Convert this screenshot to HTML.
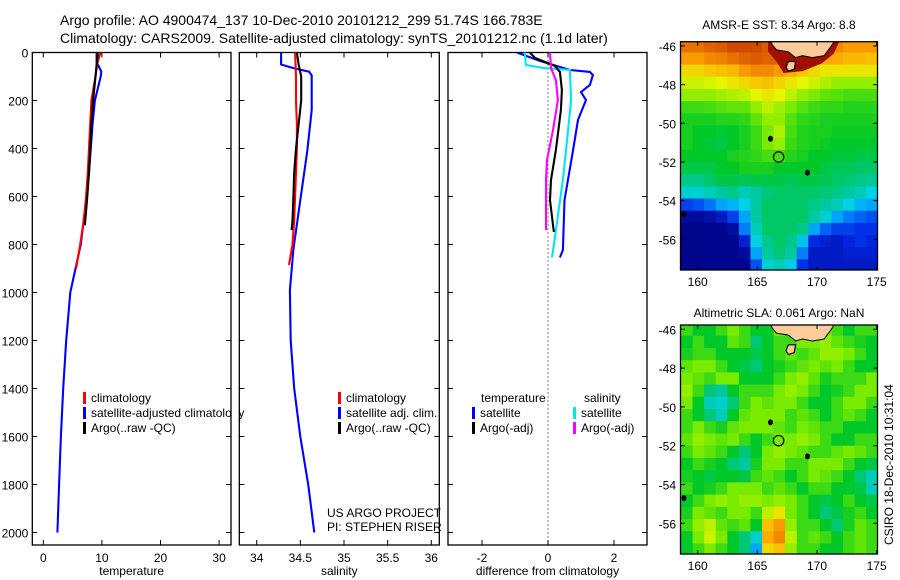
<!DOCTYPE html>
<html><head><meta charset="utf-8">
<style>
html,body{margin:0;padding:0;background:#fff;}
svg{display:block;font-family:"Liberation Sans",sans-serif;}
text{fill:#000;}
</style></head>
<body>
<svg id="fig" width="900" height="580" viewBox="0 0 900 580" xmlns="http://www.w3.org/2000/svg">
<rect width="900" height="580" fill="#fff"/>
<text x="60" y="25" font-size="14">Argo profile: AO 4900474_137 10-Dec-2010 20101212_299 51.74S 166.783E</text>
<text x="60" y="43" font-size="14">Climatology: CARS2009. Satellite-adjusted climatology: synTS_20101212.nc (1.1d later)</text>
<text x="779" y="29" font-size="12" text-anchor="middle">AMSR-E SST: 8.34 Argo: 8.8</text>
<text x="779" y="317" font-size="12" text-anchor="middle">Altimetric SLA: 0.061 Argo: NaN</text>
<text transform="translate(893,545) rotate(-90)" font-size="12">CSIRO 18-Dec-2010 10:31:04</text>
<g id="layer"></g>
</svg>
<script>
// ---------- profile data ----------
const tDepthClim=[0,20,50,100,200,300,400,500,600,700,800,900];
const tClim=[9.8,9.5,9.2,8.9,8.2,8.0,7.8,7.6,7.3,6.9,6.3,5.6];
const tDepthSat=[0,40,60,80,100,150,200,300,400,500,600,700,800,900,1000,1200,1400,1600,1800,2000];
const tSat=[9.1,9.1,9.5,9.9,9.8,9.3,8.8,8.4,8.1,7.8,7.4,6.9,6.4,5.5,4.6,3.9,3.4,3.0,2.7,2.4];
const tDepthArgo=[0,50,100,200,300,400,500,600,720];
const tArgo=[9.3,9.1,8.9,8.5,8.2,8.0,7.8,7.5,7.1];
const sDepthClim=[0,100,200,300,400,500,600,700,800,885];
const sClim=[34.44,34.45,34.45,34.46,34.46,34.45,34.44,34.43,34.41,34.37];
const sDepthSat=[0,50,65,80,95,240,410,615,820,990,1200,1400,1600,1800,2000];
const sSat=[34.28,34.28,34.42,34.6,34.63,34.63,34.58,34.5,34.42,34.38,34.39,34.43,34.5,34.59,34.66];
const sDepthArgo=[0,50,100,200,300,400,500,600,700,740];
const sArgo=[34.46,34.48,34.51,34.51,34.48,34.45,34.43,34.42,34.41,34.40];
const dDepthTS=[0,35,73,81,94,135,165,198,281,406,615,823,854];
const dTempSat=[-0.94,-0.25,0.67,1.27,1.36,1.27,1.0,1.15,0.91,0.76,0.5,0.45,0.36];
const dDepthSS=[0,52,65,73,94,198,323,531,740,854];
const dSalSat=[-0.7,-0.67,-0.1,0.67,0.67,0.7,0.61,0.45,0.24,0.12];
const dDepthTA=[0,23,56,81,156,240,406,531,615,719,748];
const dTempArgo=[-0.55,-0.39,0.21,0.36,0.42,0.39,0.24,0.09,0.06,0.15,0.18];
const dDepthSA=[0,65,115,198,323,448,531,740];
const dSalArgo=[0.06,0.09,0.24,0.3,0.15,-0.03,-0.06,-0.06];
const tempTicks=[0,10,20,30];
const salTicks=["34","34.5","35","35.5","36"];
const diffTicks=[-2,0,2];
const depthTicks=[0,200,400,600,800,1000,1200,1400,1600,1800,2000];
// ---------- map data ----------
const sstGrid=[
[.85,.85,.87,.88,.9,.9,.9,.88,.88,.88,.85,.85,.82,.82,.8,.8,.8],
[.8,.8,.82,.83,.85,.87,.88,.87,.87,.85,.8,.78,.78,.78,.76,.76,.75],
[.72,.72,.74,.75,.76,.8,.82,.82,.8,.78,.74,.72,.7,.7,.7,.7,.7],
[.66,.66,.67,.68,.7,.72,.74,.75,.72,.7,.68,.66,.64,.62,.62,.62,.62],
[.62,.62,.62,.63,.64,.65,.68,.7,.68,.65,.62,.6,.58,.57,.56,.56,.56],
[.55,.55,.56,.57,.58,.58,.62,.65,.63,.6,.57,.55,.54,.54,.53,.53,.53],
[.52,.52,.52,.53,.53,.54,.58,.62,.62,.57,.54,.53,.52,.52,.52,.52,.52],
[.52,.5,.5,.49,.5,.52,.55,.6,.64,.56,.53,.52,.52,.51,.51,.51,.51],
[.52,.5,.49,.48,.5,.52,.55,.6,.62,.55,.53,.52,.51,.5,.5,.5,.5],
[.5,.5,.5,.5,.52,.53,.54,.56,.56,.53,.52,.5,.5,.49,.49,.48,.48],
[.48,.48,.48,.5,.5,.52,.52,.52,.5,.5,.5,.5,.48,.47,.47,.46,.46],
[.44,.44,.46,.48,.48,.47,.48,.48,.48,.47,.48,.48,.47,.46,.45,.44,.43],
[.38,.38,.4,.42,.44,.4,.42,.45,.46,.46,.46,.46,.45,.44,.42,.4,.36],
[.18,.2,.24,.3,.32,.36,.42,.46,.46,.46,.46,.44,.42,.4,.36,.32,.3],
[.04,.04,.06,.1,.18,.3,.42,.46,.46,.46,.46,.42,.38,.3,.25,.22,.2],
[.02,.02,.02,.02,.05,.25,.4,.46,.46,.46,.44,.3,.22,.18,.18,.16,.16],
[.02,.02,.02,.02,.02,.12,.36,.44,.46,.44,.34,.15,.12,.1,.14,.16,.14],
[.02,.02,.02,.02,.02,.04,.3,.42,.45,.42,.25,.1,.1,.1,.12,.12,.12],
[.02,.02,.02,.02,.02,.02,.2,.38,.4,.35,.16,.1,.1,.1,.1,.1,.1]];
const slaGrid=[
[.55,.5,.5,.55,.6,.55,.5,.5,.6,.55,.55,.58,.6,.55,.5,.55,.55],
[.5,.55,.5,.5,.58,.55,.45,.5,.55,.55,.6,.6,.62,.58,.55,.52,.5],
[.52,.55,.55,.5,.5,.5,.48,.5,.55,.58,.55,.58,.62,.62,.6,.55,.5],
[.58,.6,.6,.55,.5,.48,.45,.5,.52,.55,.58,.6,.58,.6,.55,.5,.5],
[.6,.58,.55,.6,.6,.5,.5,.5,.55,.6,.62,.58,.52,.55,.55,.55,.6],
[.62,.55,.45,.42,.5,.55,.55,.55,.6,.62,.6,.55,.5,.52,.55,.6,.6],
[.6,.5,.4,.38,.45,.55,.6,.58,.6,.6,.55,.5,.5,.55,.6,.6,.55],
[.55,.5,.45,.4,.5,.58,.6,.6,.6,.55,.58,.55,.5,.55,.58,.55,.5],
[.55,.6,.55,.52,.58,.6,.6,.6,.58,.55,.6,.58,.55,.55,.5,.5,.5],
[.58,.62,.6,.58,.6,.55,.5,.55,.6,.6,.62,.6,.55,.5,.5,.55,.55],
[.55,.6,.58,.55,.5,.45,.5,.6,.62,.6,.58,.55,.55,.58,.6,.58,.55],
[.5,.55,.52,.5,.45,.42,.52,.6,.6,.55,.55,.6,.6,.6,.55,.5,.48],
[.52,.5,.48,.5,.5,.48,.55,.58,.55,.5,.55,.6,.58,.55,.5,.45,.4],
[.55,.5,.52,.55,.6,.6,.6,.55,.58,.55,.5,.55,.55,.5,.5,.48,.4],
[.5,.55,.6,.62,.6,.62,.62,.6,.62,.6,.55,.5,.48,.5,.55,.5,.48],
[.52,.6,.58,.55,.6,.6,.55,.65,.7,.6,.55,.5,.45,.48,.52,.55,.5],
[.55,.62,.65,.58,.55,.58,.5,.75,.8,.62,.55,.55,.5,.45,.52,.58,.55],
[.5,.6,.66,.6,.5,.45,.38,.78,.82,.65,.55,.58,.55,.5,.55,.58,.55],
[.5,.55,.6,.55,.5,.45,.3,.72,.75,.62,.55,.55,.5,.5,.55,.58,.55]];
const lonTicks=[160,165,170,175];
const latTicks=[-46,-48,-50,-52,-54,-56];
const floatLon=166.783, floatLat=-51.74;

const NS="http://www.w3.org/2000/svg";
const layer=document.getElementById('layer');
function mk(tag,attrs,parent){const e=document.createElementNS(NS,tag);for(const k in attrs)e.setAttribute(k,attrs[k]);(parent||layer).appendChild(e);return e;}

// ---------- profile panels ----------
const yTop=52.5, pxPerM=0.24, yBot=545;
const yD=d=>yTop+d*pxPerM;
function panel(name,x0,x1,xs,ticks,label,showY){
  const g=mk('g',{});
  
  
  const clipId='clip-'+name;
  const cp=mk('clipPath',{id:clipId},g);mk('rect',{x:x0,y:yTop,width:x1-x0,height:yBot-yTop},cp);
  const frame=mk('rect',{x:x0,y:yTop,width:x1-x0,height:yBot-yTop,fill:'none',stroke:'#000','stroke-width':1.3},g);
  
  
  depthTicks.forEach(d=>{
    const y=yD(d);
    mk('line',{x1:x0,x2:x0+5,y1:y,y2:y,stroke:'#000'},g);
    mk('line',{x1:x1,x2:x1-5,y1:y,y2:y,stroke:'#000'},g);
    if(showY){const t=mk('text',{x:x0-4,y:y+5,'font-size':12,'text-anchor':'end'},g);t.textContent=d;
      
      }
  });
  ticks.forEach(v=>{
    const x=xs(+v);
    mk('line',{x1:x,x2:x,y1:yTop,y2:yTop+5,stroke:'#000'},g);
    mk('line',{x1:x,x2:x,y1:yBot,y2:yBot-5,stroke:'#000'},g);
    const t=mk('text',{x:x,y:yBot+17,'font-size':12,'text-anchor':'middle'},g);t.textContent=v;
    
    
  });
  const lb=mk('text',{x:(x0+x1)/2,y:575,'font-size':12,'text-anchor':'middle'},g);lb.textContent=label;
  
  
  return {g,clipId};
}
function series(p,xs,depths,vals,color,name){
  const pts=depths.map((d,i)=>xs(vals[i]).toFixed(1)+','+yD(d).toFixed(1)).join(' ');
  const l=mk('polyline',{points:pts,fill:'none',stroke:color,'stroke-width':2.1,'clip-path':'url(#'+p.clipId+')'},p.g);
  
  
}
function legend(p,x,y,items){
  items.forEach((it,i)=>{
    mk('rect',{x:x,y:y+i*15-10,width:3,height:12,fill:it[1]},p.g);
    const t=mk('text',{x:x+8,y:y+i*15,'font-size':12},p.g);t.textContent=it[0];
    
    
  });
}
const xT=v=>43.3+v*5.86;
const p1=panel('temperature-panel',32.3,231,xT,tempTicks,'temperature',true);
series(p1,xT,tDepthSat,tSat,'#0000ff','temp-satellite-clim-line');
series(p1,xT,tDepthClim,tClim,'#ff0000','temp-climatology-line');
series(p1,xT,tDepthArgo,tArgo,'#000','temp-argo-line');
legend(p1,83,402,[['climatology','#ff0000'],['satellite-adjusted climatology','#0000ff'],['Argo(..raw -QC)','#000']]);
mk('rect',{x:232,y:380,width:6,height:60,fill:'#fff'});

const xS=v=>256.7+(v-34)*87.3;
const p2=panel('salinity-panel',239.3,439.3,xS,salTicks,'salinity',false);
series(p2,xS,sDepthSat,sSat,'#0000ff','sal-satellite-clim-line');
series(p2,xS,sDepthClim,sClim,'#ff0000','sal-climatology-line');
series(p2,xS,sDepthArgo,sArgo,'#000','sal-argo-line');
legend(p2,338,402,[['climatology','#ff0000'],['satellite adj. clim.','#0000ff'],['Argo(..raw -QC)','#000']]);
const c1=mk('text',{x:327,y:517,'font-size':12},p2.g);c1.textContent='US ARGO PROJECT';


const c2=mk('text',{x:327,y:531,'font-size':12},p2.g);c2.textContent='PI: STEPHEN RISER';



const xDf=v=>548+v*33;
const p3=panel('difference-panel',448,647,xDf,diffTicks,'difference from climatology',false);
mk('line',{x1:xDf(0),x2:xDf(0),y1:yTop,y2:yBot,stroke:'#000','stroke-dasharray':'1,3'},p3.g);
series(p3,xDf,dDepthTS,dTempSat,'#0000ff','diff-temp-satellite-line');
series(p3,xDf,dDepthSS,dSalSat,'#00e5ee','diff-sal-satellite-line');
series(p3,xDf,dDepthTA,dTempArgo,'#000','diff-temp-argo-line');
series(p3,xDf,dDepthSA,dSalArgo,'#ff00ff','diff-sal-argo-line');
const lt=mk('text',{x:481,y:402,'font-size':12},p3.g);lt.textContent='temperature';


const ls=mk('text',{x:584,y:402,'font-size':12},p3.g);ls.textContent='salinity';


legend(p3,472,417,[['satellite','#0000ff'],['Argo(-adj)','#000']]);
legend(p3,573,417,[['satellite','#00e5ee'],['Argo(-adj)','#ff00ff']]);

// ---------- maps ----------
const cmapStops=[[0,[0,0,128]],[0.15,[0,40,230]],[0.28,[0,150,255]],[0.36,[0,210,230]],[0.43,[0,200,150]],[0.5,[0,200,40]],[0.6,[120,235,0]],[0.68,[230,245,0]],[0.78,[255,170,0]],[0.88,[220,90,0]],[1,[150,0,0]]];
function cmap(v){for(let i=1;i<cmapStops.length;i++){if(v<=cmapStops[i][0]){const a=cmapStops[i-1],b=cmapStops[i],t=(v-a[0])/(b[0]-a[0]);return 'rgb('+a[1].map((c,k)=>Math.round(c+(b[1][k]-c)*t)).join(',')+')';}}return 'rgb(150,0,0)';}
const lonX=lon=>697.7+(lon-160)*11.93;
function mapPanel(name,top,bot,lat46,pxDeg,grid,cellName,coast){
  const latY=lat=>lat46+(-46-lat)*pxDeg;
  const g=mk('g',{});
  
  
  const cid='clip-'+name;
  const cp=mk('clipPath',{id:cid},g);mk('rect',{x:680.5,y:top,width:197,height:bot-top},cp);
  const cg=mk('g',{'clip-path':'url(#'+cid+')'},g);
  mk('rect',{x:680,y:top,width:198,height:bot-top,fill:'#fff'},cg);
  const lon0=158.6,dLon=0.97,lat0=-45.7,dLat=0.63;
  grid.forEach((row,r)=>row.forEach((v,c)=>{
    const x=lonX(lon0+c*dLon),y=latY(lat0-r*dLat);
    const cell=mk('rect',{x:x,y:y,width:lonX(lon0+(c+1)*dLon)-x+0.5,height:latY(lat0-(r+1)*dLat)-y+0.5,fill:cmap(v)},cg);
    
    
  }));
  if(coast){
    const cst=[[165.9,-45.6],[172,-45.6],[171.4,-46.4],[170.4,-46.9],[168.8,-47.3],[167.2,-47.4],[166.6,-46.8],[165.9,-46.3]];
    const cs=mk('polygon',{points:cst.map(p=>lonX(p[0])+','+latY(p[1])).join(' '),fill:'#a01000'},cg);
    
    
  }
  const land=[[166.2,-45.6],[171.6,-45.6],[171.2,-46.0],[170.6,-46.5],[169.6,-46.6],[168.8,-46.5],[168.2,-46.6],[167.6,-46.3],[166.6,-46.2],[166.2,-45.9]];
  const lp=mk('polygon',{points:land.map(p=>lonX(p[0])+','+latY(p[1])).join(' '),fill:'#ffcc99',stroke:'#000','stroke-width':1},cg);
  
  
  const isl=[[167.6,-46.8],[168.2,-46.8],[168.1,-47.2],[167.6,-47.3],[167.4,-47.1]];
  const ip=mk('polygon',{points:isl.map(p=>lonX(p[0])+','+latY(p[1])).join(' '),fill:'#ffcc99',stroke:'#000','stroke-width':1.2},cg);
  
  
  [[166.1,-50.8],[169.2,-52.55],[158.85,-54.7]].forEach(p=>{
    const e=mk('ellipse',{cx:lonX(p[0]),cy:latY(p[1]),rx:2.5,ry:3,fill:'#000'},cg);
    
    
  });
  const fc=mk('circle',{cx:lonX(floatLon),cy:latY(floatLat),r:5.2,fill:'none',stroke:'#000','stroke-width':1.2},cg);
  
  
  mk('rect',{x:680.5,y:top,width:197,height:bot-top,fill:'none',stroke:'#000','stroke-width':1.3},g);
  latTicks.forEach(la=>{const y=latY(la);
    mk('line',{x1:680.5,x2:685,y1:y,y2:y,stroke:'#000'},g);mk('line',{x1:877.5,x2:873,y1:y,y2:y,stroke:'#000'},g);
    const t=mk('text',{x:676,y:y+5,'font-size':12,'text-anchor':'end'},g);t.textContent=la;
    
    });
  lonTicks.forEach(lo=>{const x=lonX(lo);
    mk('line',{x1:x,x2:x,y1:top,y2:top+4,stroke:'#000'},g);mk('line',{x1:x,x2:x,y1:bot,y2:bot-4,stroke:'#000'},g);
    const t=mk('text',{x:x,y:bot+16,'font-size':12,'text-anchor':'middle'},g);t.textContent=lo;
    
    });
}
mapPanel('sst-map',41.7,270,46,19.33,sstGrid,'sst-cell',true);
mapPanel('sla-map',325,554,329.3,19.4,slaGrid,'sla-cell',false);
</script>
</body></html>
